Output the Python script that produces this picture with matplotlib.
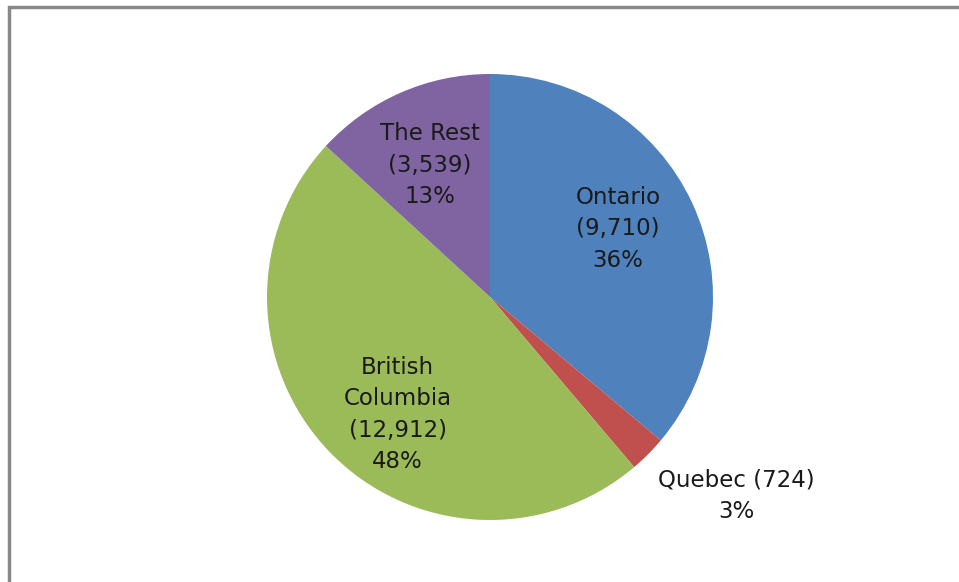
import matplotlib
matplotlib.use('Agg')
import matplotlib.pyplot as plt
import numpy as np

regions = ['Ontario', 'Quebec', 'British\nColumbia', 'The Rest']
counts = [9710, 724, 12912, 3539]
colors = ['#4F81BD', '#C0504D', '#9BBB59', '#8064A2']

W, H = 959, 582
fig = plt.figure(figsize=(W / 100, H / 100), dpi=100)
ax = fig.add_axes([0, 0, 1, 1])

# chart frame (only top and left edges fall inside the image)
ax.plot([9, 9, W + 5], [-5, H - 7, H - 7], color='#888888', lw=2.5,
        solid_joinstyle='miter', clip_on=False)

cx, cy, r = 490, H - 297, 223
wedges, _ = ax.pie(counts, colors=colors, startangle=90, counterclock=False,
                   center=(cx, cy), radius=r, frame=True,
                   wedgeprops=dict(linewidth=0))
ax.set_xlim(0, W)
ax.set_ylim(0, H)
ax.set_aspect('equal')
ax.axis('off')

total = sum(counts)
# label distance as a fraction of radius, plus small angle tweaks
dist = [0.65, 1.42, 0.67, 0.65]
tweak = [3, 6, 8, 1]
for w, name, n, d, t in zip(wedges, regions, counts, dist, tweak):
    mid = np.deg2rad((w.theta1 + w.theta2) / 2 + t)
    x = cx + d * r * np.cos(mid)
    y = cy + d * r * np.sin(mid)
    pct = round(100 * n / total)
    if name == 'Quebec':
        label = f'{name} ({n:,})\n{pct}%'
    else:
        label = f'{name}\n({n:,})\n{pct}%'
    ax.text(x, y, label, ha='center', va='center', fontsize=16.5,
            family='DejaVu Sans', color='#1a1a1a', linespacing=1.48)

fig.savefig('out.png', dpi=100, facecolor='white')
